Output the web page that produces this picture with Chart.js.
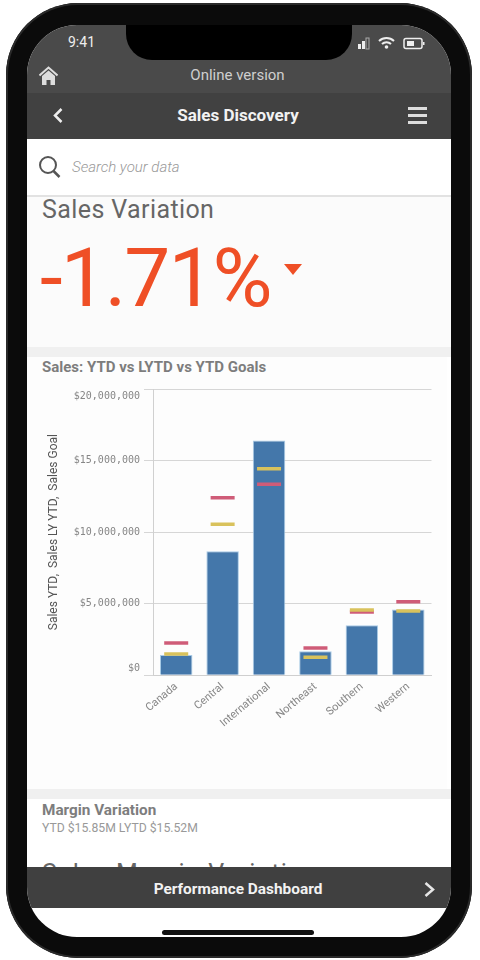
<!DOCTYPE html>
<html>
<head>
<meta charset="utf-8">
<title>Sales Discovery</title>
<script src="https://cdn.jsdelivr.net/npm/chart.js@4"></script>
<style>
html, body { margin: 0; padding: 0; background: #fff; }
body { width: 480px; height: 960px; position: relative; overflow: hidden; font-family: Roboto, sans-serif; }
div, span, svg, canvas { position: absolute; }
#frame { left: 6px; top: 3px; width: 466px; height: 955px; background: #0b0b0b; border-radius: 72px; box-shadow: inset 0 0 0 2px #2a2a2a; }
#screen { left: 27px; top: 25px; width: 424px; height: 912px; background: #fff; border-radius: 50px; overflow: hidden; }
#notch { left: 126px; top: 25px; width: 226px; height: 35px; background: #000; border-radius: 0 0 26px 26px; }
.t { white-space: nowrap; }
</style>
</head>
<body>
<div id="frame"></div>
<div id="screen">
  <!-- everything in here is offset by the screen corner -->
  <div style="left:0;top:0;width:424px;height:68px;background:#4a4a4a"></div>
  <div style="left:0;top:68px;width:424px;height:46px;background:#414141"></div>
  <div style="left:0;top:114px;width:424px;height:56px;background:#fff"></div>
  <div style="left:0;top:170px;width:424px;height:2px;background:#e2e2e2"></div>
  <div style="left:0;top:172px;width:424px;height:150px;background:#fbfbfb"></div>
  <div style="left:0;top:322px;width:424px;height:10px;background:#f0f0f0"></div>
  <div style="left:0;top:332px;width:420px;height:432px;background:#fdfdfd"></div>
  <div style="left:0;top:764px;width:424px;height:10px;background:#f0f0f0"></div>
  <div style="left:0;top:774px;width:424px;height:68px;background:#fff"></div>
  <div class="t" style="left:15px;top:834px;font-size:25px;color:#666;letter-spacing:1.2px">Sales Margin Variation</div>
  <div style="left:0;top:842px;width:424px;height:41px;background:#404040"></div>
  <div style="left:135px;top:905px;width:152px;height:5px;background:#111;border-radius:3px"></div>
</div>
<div id="notch"></div>

<div class="t" style="left:68px;top:34px;font-size:14px;color:#eee">9:41</div>
<svg style="left:357px;top:36px" width="70" height="14" viewBox="0 0 70 14">
  <rect x="1" y="8" width="3" height="5" fill="#eee"/><rect x="5" y="5" width="3" height="8" fill="#eee"/>
  <rect x="9" y="2" width="3" height="11" fill="none" stroke="#aaa"/>
  <path d="M22 5a11 11 0 0 1 15 0M25 8a6.500 6.500 0 0 1 9 0" fill="none" stroke="#eee" stroke-width="2"/>
  <circle cx="29.500" cy="11" r="1.800" fill="#eee"/>
  <rect x="47" y="2.500" width="18" height="10" rx="2" fill="none" stroke="#eee" stroke-width="1.500"/>
  <rect x="50" y="5" width="7" height="5" fill="#eee"/><rect x="66" y="6" width="1.500" height="3" fill="#eee"/>
</svg>
<svg style="left:39px;top:66px" width="19" height="20" viewBox="0 0 19 20">
  <path d="M0.500 9.500L9.500 1.500L18.500 9.500" fill="none" stroke="#ddd" stroke-width="2"/>
  <path d="M3 10L9.500 4.500L16 10V19H11.500V14H7.500V19H3Z" fill="#ddd"/>
</svg>
<div class="t" style="left:0;width:475px;text-align:center;top:66px;font-size:15px;color:#cfcfcf">Online version</div>
<svg style="left:52px;top:107px" width="12" height="17" viewBox="0 0 12 17"><path d="M9.500 2L3 8.500L9.500 15" fill="none" stroke="#eee" stroke-width="2.500"/></svg>
<div class="t" style="left:0;width:476px;text-align:center;top:105px;font-size:17px;font-weight:700;color:#f2f2f2">Sales Discovery</div>
<div style="left:408px;top:107px;width:19px;height:2.500px;background:#ddd"></div>
<div style="left:408px;top:114px;width:19px;height:2.500px;background:#ddd"></div>
<div style="left:408px;top:121px;width:19px;height:2.500px;background:#ddd"></div>

<svg style="left:38px;top:155px" width="24" height="24" viewBox="0 0 24 24">
  <circle cx="10" cy="10" r="8" fill="none" stroke="#555" stroke-width="2"/>
  <path d="M15.500 16L21.500 22" stroke="#555" stroke-width="2.500"/>
</svg>
<div class="t" style="left:72px;top:158px;font-size:15px;font-style:italic;font-weight:300;color:#999">Search your data</div>

<div class="t" style="left:42px;top:195px;font-size:25px;color:#666;letter-spacing:.4px">Sales Variation</div>
<div class="t" style="left:40px;top:230px;font-size:82px;font-weight:400;color:#ef4f26;line-height:96px;letter-spacing:-2px">-1.71%</div>
<svg style="left:284px;top:264px" width="18" height="11" viewBox="0 0 18 11"><path d="M0 0H18L9 11Z" fill="#ef4f26"/></svg>

<div class="t" style="left:42px;top:358px;font-size:15px;font-weight:700;color:#7d7d7d">Sales: YTD vs LYTD vs YTD Goals</div>

<canvas id="salesChart" width="417" height="389" style="left:30px;top:371px"></canvas>

<div class="t" style="left:42px;top:801px;font-size:15.300px;font-weight:700;color:#7d7d7d">Margin Variation</div>
<div class="t" style="left:42px;top:821px;font-size:12.200px;color:#999">YTD $15.85M LYTD $15.52M</div>

<div class="t" style="left:0;width:476px;text-align:center;top:880px;font-size:15.400px;font-weight:700;color:#f2f2f2">Performance Dashboard</div>
<svg style="left:423px;top:881px" width="13" height="17" viewBox="0 0 13 17"><path d="M2.500 2L10 8.500L2.500 15" fill="none" stroke="#e6e6e6" stroke-width="2.500"/></svg>

<script>
const regions = ['Canada', 'Central', 'International', 'Northeast', 'Southern', 'Western'];
const salesYtd = [1420000, 8670000, 16400000, 1680000, 3500000, 4600000];
const salesLyYtd = [2260000, 12400000, 13350000, 1910000, 4430000, 5130000];
const salesGoal = [1490000, 10560000, 14430000, 1260000, 4570000, 4500000];
const yTicks = [0, 5000000, 10000000, 15000000, 20000000];

const tickGrey = '#868686';

// first and last y labels sit inside the plot, a blank line pushes them in
function yTickLabel(v) {
    const text = '$' + v.toLocaleString('en-US');
    if (v === yTicks[0]) return [text, ''];
    if (v === yTicks[yTicks.length - 1]) return ['', text];
    return text;
}

new Chart(document.getElementById('salesChart'), {
    type: 'bar',
    data: {
        labels: regions,
        datasets: [
            {
                label: 'Sales YTD',
                data: salesYtd,
                backgroundColor: '#4477aa',
                borderColor: '#a9cbe6',
                borderWidth: 1,
                barPercentage: 0.7,
                categoryPercentage: 1,
                order: 3
            },
            {
                type: 'line',
                label: 'Sales LY YTD',
                data: salesLyYtd,
                showLine: false,
                pointStyle: 'line',
                pointRadius: 12,
                pointBorderWidth: 3.5,
                pointBorderColor: '#cf5c78',
                order: 2
            },
            {
                type: 'line',
                label: 'Sales Goal',
                data: salesGoal,
                showLine: false,
                pointStyle: 'line',
                pointRadius: 12,
                pointBorderWidth: 3.5,
                pointBorderColor: '#d9c25c',
                order: 1
            }
        ]
    },
    options: {
        responsive: false,
        animation: false,
        devicePixelRatio: 1,
        layout: { padding: { top: 3.3, right: 0, left: 0, bottom: 0 } },
        plugins: { legend: { display: false }, tooltip: { enabled: false } },
        scales: {
            x: {
                afterFit: scale => { scale.height = 84.7; },
                grid: { display: false },
                border: { color: '#cfcfcf', width: 1 },
                ticks: {
                    color: tickGrey,
                    padding: -3,
                    font: { family: 'Roboto', size: 11 },
                    minRotation: 40,
                    maxRotation: 40,
                    autoSkip: false
                }
            },
            y: {
                min: 0,
                max: 20000000,
                afterFit: scale => { scale.width = 123; },
                afterBuildTicks: scale => { scale.ticks = yTicks.map(v => ({ value: v })); },
                grid: { color: '#d6d6d6', tickLength: 9 },
                border: { color: '#d0d0d0' },
                ticks: {
                    color: tickGrey,
                    padding: 4,
                    font: { family: 'DejaVu Sans Mono', size: 10, lineHeight: 1.4 },
                    callback: yTickLabel
                },
                title: {
                    display: true,
                    text: 'Sales YTD,  Sales LY YTD,  Sales Goal',
                    color: '#555',
                    font: { family: 'Roboto', size: 12 },
                    padding: { top: 17, bottom: 0 }
                }
            }
        }
    }
});
</script>
</body>
</html>
